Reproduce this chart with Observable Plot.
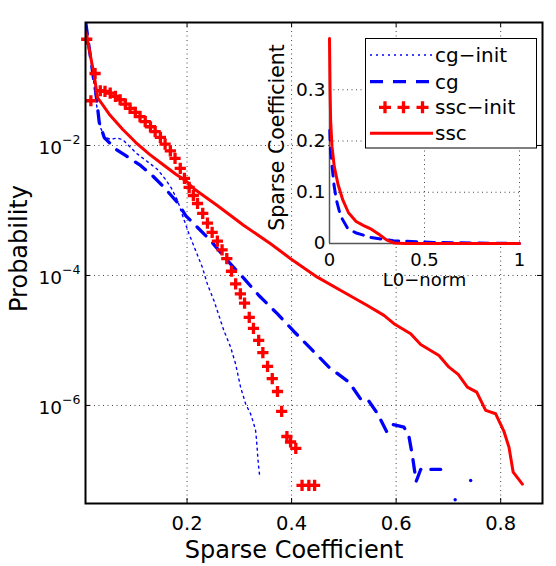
<!DOCTYPE html>
<html>
<head>
<meta charset="utf-8">
<script src="https://cdn.jsdelivr.net/npm/d3@7"></script>
<script src="https://cdn.jsdelivr.net/npm/@observablehq/plot@0.6"></script>
<style>
  html, body { margin: 0; padding: 0; background: white; }
  #wrap { position: relative; width: 556px; height: 566px; font-family: "DejaVu Sans", sans-serif; }
  #inset { position: absolute; left: 255px; top: 30px; }
  #legend { position: absolute; left: 0; top: 0; }
</style>
</head>
<body>
<div id="wrap">
  <div id="main"></div>
  <div id="inset"></div>
  <svg id="legend" width="556" height="566"></svg>
</div>
<script>
// ---------- data ----------
const xTicks = [0.2, 0.4, 0.6, 0.8];
const yTicks = [1e-2, 1e-4, 1e-6];
const insetXTicks = [0, 0.5, 1];
const insetYTicks = [0, 0.1, 0.2, 0.3];
const legendLabels = ["cg−init", "cg", "ssc−init", "ssc"];

const cgInitX = [0.006, 0.0134, 0.0211, 0.0278, 0.035, 0.0421, 0.0536, 0.0651, 0.0766, 0.0919, 0.1053, 0.1181, 0.1307, 0.1435, 0.1589, 0.1703, 0.1818, 0.1933, 0.2034, 0.2163, 0.2291, 0.2387, 0.2513, 0.2609, 0.2704, 0.2833, 0.2928, 0.3024, 0.312, 0.3215, 0.3267, 0.3311, 0.333, 0.3344, 0.3355, 0.3374, 0.3393];
const cgInitP = [0.8, 0.29, 0.1, 0.0371, 0.0183, 0.01374, 0.01236, 0.01304, 0.01236, 0.00931, 0.00735, 0.00615, 0.00515, 0.00427, 0.0030, 0.00218, 0.001425, 7.53e-4, 4.43e-4, 2.43e-4, 1.343e-4, 7.44e-5, 4.12e-5, 2.43e-5, 1.425e-5, 7.89e-6, 4.38e-6, 1.91e-6, 1.06e-6, 7.44e-7, 5.53e-7, 4.12e-7, 2.89e-7, 2.03e-7, 1.51e-7, 1.06e-7, 7.7e-8];

const cgX = [0.006, 0.0134, 0.0211, 0.0255, 0.032, 0.0415, 0.0637, 0.0829, 0.1116, 0.134, 0.1531, 0.1818, 0.1977, 0.213, 0.245, 0.277, 0.3087, 0.3374, 0.3726, 0.4044, 0.4383, 0.4714, 0.5097, 0.532, 0.5449, 0.5646, 0.5818, 0.5933, 0.615, 0.6245, 0.631, 0.6383, 0.6469, 0.6852];
const cgP = [0.8, 0.29, 0.1074, 0.0654, 0.0226, 0.01327, 0.00877, 0.00695, 0.00488, 0.00342, 0.0024, 0.001327, 8.28e-4, 6.24e-4, 3.45e-4, 1.70e-4, 9.0e-5, 4.92e-5, 2.58e-5, 1.375e-5, 7.28e-6, 3.88e-6, 2.28e-6, 1.26e-6, 1.26e-6, 7.44e-7, 3.98e-7, 5.1e-7, 4.63e-7, 3.33e-7, 1.70e-7, 6.78e-8, 1.035e-7, 1.035e-7];
const cgTailX = [0.7129, 0.7426];
const cgTailP = [3.54e-8, 7.0e-8];

const sscInitX = [0.008, 0.024, 0.016, 0.034, 0.043, 0.053, 0.063, 0.072, 0.082, 0.091, 0.101, 0.110, 0.120, 0.130, 0.139, 0.149, 0.158, 0.168, 0.177, 0.187, 0.195, 0.204, 0.212, 0.220, 0.230, 0.239, 0.248, 0.258, 0.267, 0.276, 0.285, 0.293, 0.302, 0.310, 0.319, 0.327, 0.337, 0.345, 0.354, 0.363, 0.373, 0.381, 0.391, 0.398, 0.408, 0.420, 0.433, 0.444];
const sscInitP = [0.431, 0.128, 0.0488, 0.0695, 0.0678, 0.0638, 0.0568, 0.0505, 0.0432, 0.0371, 0.0322, 0.0277, 0.0232, 0.0194, 0.0163, 0.0133, 0.0105, 0.00828, 0.00631, 0.00443, 0.00311, 0.00226, 0.00170, 0.00128, 9.0e-4, 6.4e-4, 4.6e-4, 3.37e-4, 2.48e-4, 1.81e-4, 1.16e-4, 7.4e-5, 5.2e-5, 3.75e-5, 2.26e-5, 1.53e-5, 1.0e-5, 6.5e-6, 4.0e-6, 2.58e-6, 1.64e-6, 8.1e-7, 3.33e-7, 2.74e-7, 2.18e-7, 5.9e-8, 5.9e-8, 5.9e-8];

const sscX = [0.0067, 0.0128, 0.0224, 0.0287, 0.0511, 0.0766, 0.102, 0.1277, 0.1531, 0.1786, 0.1977, 0.213, 0.2578, 0.3087, 0.3598, 0.3981, 0.4492, 0.5001, 0.5449, 0.5767, 0.5958, 0.6278, 0.6469, 0.6819, 0.7011, 0.7187, 0.7363, 0.7541, 0.7713, 0.7904, 0.8063, 0.8159, 0.8239, 0.8415];
const sscP = [0.547, 0.303, 0.118, 0.0547, 0.0303, 0.0178, 0.0111, 0.00735, 0.00515, 0.00361, 0.00286, 0.00216, 0.001194, 5.88e-4, 3.08e-4, 1.81e-4, 9.42e-5, 5.53e-5, 3.45e-5, 2.43e-5, 1.81e-5, 1.27e-5, 8.68e-6, 5.88e-6, 3.88e-6, 3.0e-6, 1.91e-6, 1.60e-6, 8.38e-7, 7.44e-7, 3.98e-7, 2.28e-7, 9.42e-8, 6.15e-8];

const insetCgX = [0.0016, 0.005, 0.013, 0.024, 0.037, 0.058, 0.093, 0.137, 0.216, 0.337, 0.547, 1.0];
const insetCgY = [0.221, 0.182, 0.153, 0.113, 0.084, 0.054, 0.031, 0.021, 0.012, 0.0053, 0.002, 0.0];
const insetSscX = [0, 0.003, 0.006, 0.013, 0.025, 0.045, 0.07, 0.1, 0.14, 0.18, 0.22, 0.26, 0.30, 0.34, 0.4, 1];
const insetSscY = [0.40, 0.30, 0.24, 0.19, 0.15, 0.115, 0.085, 0.06, 0.043, 0.035, 0.028, 0.018, 0.007, 0.001, 0, 0];

// ---------- helpers ----------
const zip = (xs, ys) => xs.map((x, i) => ({x, y: ys[i]}));
const plusSymbol = {
  draw(ctx, size) {
    const r = Math.sqrt(size / Math.PI);
    ctx.moveTo(-r, 0); ctx.lineTo(r, 0);
    ctx.moveTo(0, -r); ctx.lineTo(0, r);
  }
};
const BLUE = "#0000ff", RED = "#ff0000";
const gridStyle = {stroke: "#444", strokeWidth: 1, strokeDasharray: "1,3.5"};

// ---------- main chart ----------
const W = 556, H = 566, mL = 85, mR = 14, mT = 22, mB = 63;
const pw = W - mL - mR, ph = H - mT - mB;

const main = Plot.plot({
  width: W, height: H,
  marginLeft: mL, marginRight: mR, marginTop: mT, marginBottom: mB,
  style: {fontFamily: "DejaVu Sans", background: "white", color: "black"},
  x: {domain: [0.0057, 0.88]},
  y: {type: "log", domain: [3.1e-8, 0.78]},
  marks: [
    Plot.ruleX(xTicks, {x: d => d, ...gridStyle}),
    Plot.ruleY(yTicks, {y: d => d, ...gridStyle}),
    Plot.tickX(xTicks, {x: d => d, insetTop: ph - 5, stroke: "black", strokeWidth: 1}),
    Plot.tickX(xTicks, {x: d => d, insetBottom: ph - 5, stroke: "black", strokeWidth: 1}),
    Plot.tickY(yTicks, {y: d => d, insetRight: pw - 5, stroke: "black", strokeWidth: 1}),
    Plot.tickY(yTicks, {y: d => d, insetLeft: pw - 5, stroke: "black", strokeWidth: 1}),
    Plot.axisX(xTicks, {tickSize: 0, tickPadding: 13, fontSize: 19.5, label: null, tickFormat: d => d.toFixed(1)}),
    Plot.axisY(yTicks, {tickSize: 0, tickPadding: 5, fontSize: 18.5, label: null, dy: 3,
      tickFormat: d => "10|" + Math.round(Math.log10(d))}),
    Plot.line(zip(cgInitX, cgInitP), {x: "x", y: "y", stroke: BLUE, strokeWidth: 1.4, strokeDasharray: "2,4", clip: true}),
    Plot.line(zip(cgX, cgP), {x: "x", y: "y", stroke: BLUE, strokeWidth: 3.3, strokeDasharray: "12.5,10", clip: true}),
    Plot.dot(zip(cgTailX, cgTailP), {x: "x", y: "y", r: 1.7, fill: BLUE, stroke: "none"}),
    Plot.line(zip(sscX, sscP), {x: "x", y: "y", stroke: RED, strokeWidth: 3, clip: true}),
    Plot.dot(zip(sscInitX, sscInitP), {x: "x", y: "y", symbol: plusSymbol, r: 5.6, fill: "none", stroke: RED, strokeWidth: 3.3}),
    Plot.frame({stroke: "black", strokeWidth: 2}),
    Plot.text(["Sparse Coefficient"], {frameAnchor: "bottom", lineAnchor: "middle", textAnchor: "middle", dx: -20, dy: 47, fontSize: 24}),
    Plot.text(["Probability"], {frameAnchor: "left", lineAnchor: "middle", textAnchor: "middle", rotate: -90, dx: -66, dy: -14.5, fontSize: 24})
  ]
});
document.getElementById("main").appendChild(main);

// superscript exponents on the y tick labels
d3.select(main).selectAll('g[aria-label="y-axis tick label"] text').each(function() {
  const t = d3.select(this);
  const s = t.text();
  if (s.indexOf("|") < 0) return;
  const [base, ex] = s.split("|");
  t.text(base);
  t.append("tspan").attr("dy", "-0.85em").attr("font-size", "12.5px").text(ex.replace("-", "−"));
});

// ---------- inset chart ----------
const inset = Plot.plot({
  width: 290, height: 260,
  marginLeft: 74, marginRight: 26, marginTop: 8, marginBottom: 47,
  style: {fontFamily: "DejaVu Sans", background: "transparent", color: "black", overflow: "visible"},
  x: {domain: [0, 1]},
  y: {domain: [0, 0.4]},
  marks: [
    Plot.frame({fill: "white", stroke: "none"}),
    Plot.ruleX([0.5, 1], {x: d => d, ...gridStyle}),
    Plot.ruleY([0.1, 0.2, 0.3], {y: d => d, ...gridStyle}),
    Plot.axisX(insetXTicks, {tickSize: 0, tickPadding: 10, fontSize: 18, label: null, tickFormat: d => String(d)}),
    Plot.axisY(insetYTicks, {tickSize: 0, tickPadding: 4, fontSize: 18.5, label: null, tickFormat: d => String(d)}),
    Plot.ruleX([0], {x: d => d, stroke: "#555", strokeWidth: 1.5}),
    Plot.ruleY([0], {y: d => d, stroke: "#555", strokeWidth: 1.5}),
    Plot.line(zip(insetCgX, insetCgY), {x: "x", y: "y", stroke: BLUE, strokeWidth: 3, strokeDasharray: "10,8"}),
    Plot.line(zip(insetSscX, insetSscY), {x: "x", y: "y", stroke: RED, strokeWidth: 3}),
    Plot.text(["L0−norm"], {frameAnchor: "bottom", lineAnchor: "middle", textAnchor: "middle", dy: 37, fontSize: 18}),
    Plot.text(["Sparse Coefficient"], {frameAnchor: "left", lineAnchor: "middle", textAnchor: "middle", rotate: -90, dx: -52, dy: -3.5, fontSize: 20.5})
  ]
});
document.getElementById("inset").appendChild(inset);

// ---------- legend (main axes, north-east) ----------
const lg = d3.select("#legend");
lg.append("rect").attr("x", 365.5).attr("y", 38.5).attr("width", 171).attr("height", 109.5)
  .attr("fill", "white").attr("stroke", "black").attr("stroke-width", 1);
const rowY = [55, 81.7, 107.3, 133.3];
const sx1 = 370, sx2 = 433;
// cg-init
lg.append("line").attr("x1", sx1).attr("x2", sx2).attr("y1", rowY[0]).attr("y2", rowY[0])
  .attr("stroke", BLUE).attr("stroke-width", 1.4).attr("stroke-dasharray", "2,4");
// cg
lg.append("line").attr("x1", sx1).attr("x2", sx2).attr("y1", rowY[1]).attr("y2", rowY[1])
  .attr("stroke", BLUE).attr("stroke-width", 3.3).attr("stroke-dasharray", "13,10");
// ssc-init
[385, 403.5, 422.5].forEach(cx => {
  lg.append("path").attr("d", `M${cx - 6},${rowY[2]}H${cx + 6}M${cx},${rowY[2] - 6}V${rowY[2] + 6}`)
    .attr("stroke", RED).attr("stroke-width", 3.3).attr("fill", "none");
});
// ssc
lg.append("line").attr("x1", sx1).attr("x2", sx2).attr("y1", rowY[3]).attr("y2", rowY[3])
  .attr("stroke", RED).attr("stroke-width", 3);
legendLabels.forEach((lab, i) => {
  lg.append("text").attr("x", 435).attr("y", rowY[i]).attr("dy", "0.35em")
    .attr("font-family", "DejaVu Sans").attr("font-size", 20).attr("fill", "black").text(lab);
});
</script>
</body>
</html>
